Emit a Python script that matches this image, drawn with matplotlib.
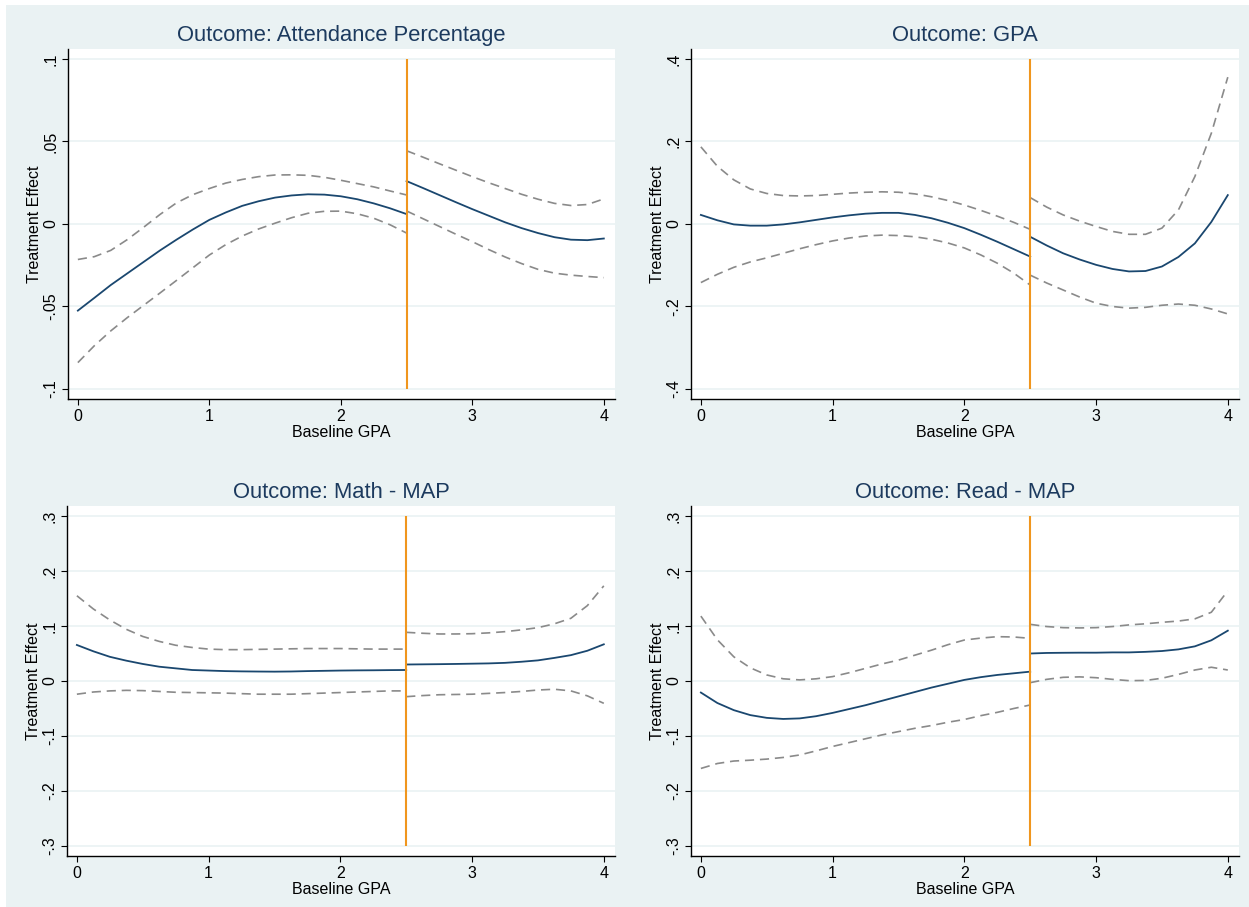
"""Treatment effect by baseline GPA, four outcomes."""
import matplotlib.pyplot as plt
from matplotlib.patches import Rectangle

plt.rcParams['font.family'] = ['Liberation Sans', 'DejaVu Sans']

# shared x grids (left and right of the 2.5 cutoff)
x_left = [0, .125, .25, .375, .5, .625, .75, .875, 1, 1.125, 1.25, 1.375,
          1.5, 1.625, 1.75, 1.875, 2, 2.125, 2.25, 2.375, 2.5]
x_right = [2.5, 2.625, 2.75, 2.875, 3, 3.125, 3.25, 3.375, 3.5, 3.625,
           3.75, 3.875, 4]
cutoff = 2.5

# Attendance Percentage
att_fit_l = [-0.0525, -0.0448, -0.037, -0.030, -0.023, -0.016, -0.0095,
             -0.0033, 0.0025, 0.007, 0.011, 0.0138, 0.016, 0.0173, 0.018,
             0.0178, 0.0168, 0.015, 0.0125, 0.0095, 0.006]
att_hi_l = [-0.0215, -0.0198, -0.016, -0.0095, -0.002, 0.0058, 0.0128,
            0.0178, 0.0215, 0.0248, 0.027, 0.0287, 0.0297, 0.0298, 0.0295,
            0.0283, 0.0265, 0.0245, 0.0225, 0.020, 0.0176]
att_lo_l = [-0.084, -0.0738, -0.0648, -0.0568, -0.0493, -0.0418, -0.0342,
            -0.0265, -0.0188, -0.0125, -0.0073, -0.003, 0.0005, 0.0038,
            0.0065, 0.0077, 0.0078, 0.0062, 0.0035, -0.0005, -0.0055]
att_fit_r = [0.026, 0.0218, 0.0175, 0.0132, 0.009, 0.005, 0.001, -0.0025,
             -0.0055, -0.008, -0.0095, -0.0098, -0.0088]
att_hi_r = [0.0444, 0.0405, 0.0365, 0.0326, 0.0287, 0.025, 0.0215, 0.018,
            0.015, 0.0125, 0.0112, 0.0118, 0.0152]
att_lo_r = [0.0079, 0.0032, -0.0015, -0.0062, -0.0107, -0.0155, -0.0200,
            -0.024, -0.0275, -0.0298, -0.031, -0.0318, -0.0325]

# GPA
gpa_fit_l = [0.022, 0.009, -0.001, -0.004, -0.004, -0.001, 0.004, 0.010,
             0.016, 0.021, 0.025, 0.027, 0.027, 0.022, 0.014, 0.003, -0.010,
             -0.026, -0.043, -0.061, -0.079]
gpa_hi_l = [0.187, 0.140, 0.107, 0.085, 0.074, 0.069, 0.068, 0.069, 0.072,
            0.075, 0.077, 0.078, 0.077, 0.073, 0.066, 0.057, 0.046, 0.033,
            0.019, 0.004, -0.013]
gpa_lo_l = [-0.142, -0.122, -0.105, -0.092, -0.082, -0.071, -0.060, -0.050,
            -0.041, -0.034, -0.029, -0.027, -0.028, -0.031, -0.037, -0.046,
            -0.058, -0.075, -0.095, -0.119, -0.148]
gpa_fit_r = [-0.031, -0.052, -0.071, -0.086, -0.099, -0.109, -0.115,
             -0.114, -0.103, -0.080, -0.047, 0.005, 0.070]
gpa_hi_r = [0.064, 0.041, 0.022, 0.007, -0.006, -0.018, -0.025, -0.025,
            -0.010, 0.034, 0.115, 0.220, 0.356]
gpa_lo_r = [-0.124, -0.143, -0.160, -0.177, -0.192, -0.200, -0.204, -0.202,
            -0.197, -0.194, -0.197, -0.206, -0.218]

# Math - MAP
math_fit_l = [0.0655, 0.054, 0.044, 0.037, 0.031, 0.026, 0.023, 0.020,
              0.019, 0.018, 0.0175, 0.0172, 0.017, 0.0173, 0.018, 0.0185,
              0.019, 0.0193, 0.0195, 0.0198, 0.020]
math_hi_l = [0.155, 0.131, 0.111, 0.094, 0.081, 0.072, 0.065, 0.061, 0.058,
             0.057, 0.057, 0.0575, 0.058, 0.0585, 0.059, 0.059, 0.059,
             0.0585, 0.058, 0.058, 0.058]
math_lo_l = [-0.024, -0.020, -0.018, -0.017, -0.0175, -0.019, -0.0205,
             -0.021, -0.0215, -0.022, -0.023, -0.024, -0.024, -0.024, -0.023,
             -0.022, -0.021, -0.020, -0.019, -0.018, -0.018]
math_fit_r = [0.030, 0.0303, 0.0306, 0.031, 0.0315, 0.032, 0.033, 0.035,
              0.0375, 0.042, 0.047, 0.055, 0.0667]
math_hi_r = [0.0885, 0.0868, 0.0855, 0.0855, 0.086, 0.0875, 0.0897, 0.093,
             0.097, 0.104, 0.114, 0.137, 0.173]
math_lo_r = [-0.0285, -0.0265, -0.025, -0.0245, -0.024, -0.0225, -0.021,
             -0.019, -0.0164, -0.015, -0.018, -0.027, -0.0406]

# Read - MAP
read_fit_l = [-0.021, -0.040, -0.053, -0.062, -0.067, -0.069, -0.068,
              -0.064, -0.058, -0.051, -0.044, -0.036, -0.028, -0.020, -0.012,
              -0.005, 0.002, 0.007, 0.011, 0.014, 0.017]
read_hi_l = [0.118, 0.075, 0.044, 0.024, 0.011, 0.004, 0.002, 0.004, 0.008,
             0.015, 0.023, 0.031, 0.038, 0.047, 0.056, 0.066, 0.0745, 0.078,
             0.0806, 0.080, 0.0776]
read_lo_l = [-0.159, -0.150, -0.1455, -0.144, -0.142, -0.139, -0.1345,
             -0.127, -0.119, -0.112, -0.105, -0.098, -0.092, -0.086, -0.081,
             -0.075, -0.070, -0.063, -0.057, -0.050, -0.0436]
read_fit_r = [0.050, 0.051, 0.0513, 0.0515, 0.0515, 0.052, 0.052, 0.053,
              0.0545, 0.0575, 0.063, 0.074, 0.0915]
read_hi_r = [0.103, 0.099, 0.097, 0.0965, 0.097, 0.099, 0.102, 0.104,
             0.1067, 0.109, 0.113, 0.125, 0.164]
read_lo_r = [-0.003, 0.003, 0.0067, 0.0075, 0.006, 0.003, 0.0006, 0.001,
             0.005, 0.012, 0.020, 0.025, 0.020]

titles = ['Outcome: Attendance Percentage', 'Outcome: GPA',
          'Outcome: Math - MAP', 'Outcome: Read - MAP']
att_yticks = [-0.1, -0.05, 0, 0.05, 0.1]
att_ylabels = ['-.1', '-.05', '0', '.05', '.1']
gpa_yticks = [-0.4, -0.2, 0, 0.2, 0.4]
gpa_ylabels = ['-.4', '-.2', '0', '.2', '.4']
map_yticks = [-0.3, -0.2, -0.1, 0, 0.1, 0.2, 0.3]
map_ylabels = ['-.3', '-.2', '-.1', '0', '.1', '.2', '.3']
xticks = [0, 1, 2, 3, 4]

NAVY = '#1A476F'
TITLE = '#1C3A5E'
GRAY = '#8A8A8A'
ORANGE = '#F0961E'
BG = '#EAF2F3'
W, H = 1249, 907


def _px_box(left, top, right, bottom):
    return [left / W, 1 - bottom / H, (right - left) / W, (bottom - top) / H]


def _draw_panel(ax, title, yticks, ylabels, left, right):
    span = yticks[-1] - yticks[0]
    pad = span * 10 / 330
    ax.set_xlim(-0.075, 4.085)
    ax.set_ylim(yticks[0] - pad, yticks[-1] + pad)

    ax.set_yticks(yticks)
    ax.set_yticklabels(ylabels, rotation=90, va='center')
    ax.set_xticks(xticks)
    ax.grid(axis='y', color=BG, linewidth=1.2, zorder=0)
    ax.set_axisbelow(True)

    for x, (fit, hi, lo) in ((x_left, left), (x_right, right)):
        ax.plot(x, hi, color=GRAY, lw=1.2, ls=(0, (5.5, 3.5)), zorder=2)
        ax.plot(x, lo, color=GRAY, lw=1.2, ls=(0, (5.5, 3.5)), zorder=2)
        ax.plot(x, fit, color=NAVY, lw=1.3, zorder=3)

    ax.vlines(cutoff, yticks[0], yticks[-1], color=ORANGE, lw=1.5, zorder=4)

    for side in ('top', 'right'):
        ax.spines[side].set_visible(False)
    for side in ('left', 'bottom'):
        ax.spines[side].set_linewidth(1.0)
    ax.tick_params(direction='out', length=4, width=0.8, labelsize=11.5,
                   pad=3)
    ax.set_xlabel('Baseline GPA', fontsize=11.5, labelpad=1)
    ax.set_ylabel('Treatment Effect', fontsize=11.5, labelpad=1)
    ax.set_title(title, fontsize=15.8, color=TITLE, pad=6)


fig = plt.figure(figsize=(W / 100, H / 100), dpi=100, facecolor='white')
fig.patches.append(Rectangle((6 / W, 0), 1 - 6 / W, 1 - 5 / H,
                             transform=fig.transFigure, facecolor=BG,
                             edgecolor='none', zorder=-10))

panels = [
    (_px_box(68, 49, 615, 399), titles[0], att_yticks, att_ylabels,
     (att_fit_l, att_hi_l, att_lo_l), (att_fit_r, att_hi_r, att_lo_r)),
    (_px_box(691, 49, 1239, 399), titles[1], gpa_yticks, gpa_ylabels,
     (gpa_fit_l, gpa_hi_l, gpa_lo_l), (gpa_fit_r, gpa_hi_r, gpa_lo_r)),
    (_px_box(67, 506, 615, 856), titles[2], map_yticks, map_ylabels,
     (math_fit_l, math_hi_l, math_lo_l), (math_fit_r, math_hi_r, math_lo_r)),
    (_px_box(691, 506, 1239, 856), titles[3], map_yticks, map_ylabels,
     (read_fit_l, read_hi_l, read_lo_l), (read_fit_r, read_hi_r, read_lo_r)),
]

for box, title, yticks, ylabels, left, right in panels:
    ax = fig.add_axes(box)
    ax.set_facecolor('white')
    _draw_panel(ax, title, yticks, ylabels, left, right)

fig.savefig('out.png', dpi=100, facecolor='white')
